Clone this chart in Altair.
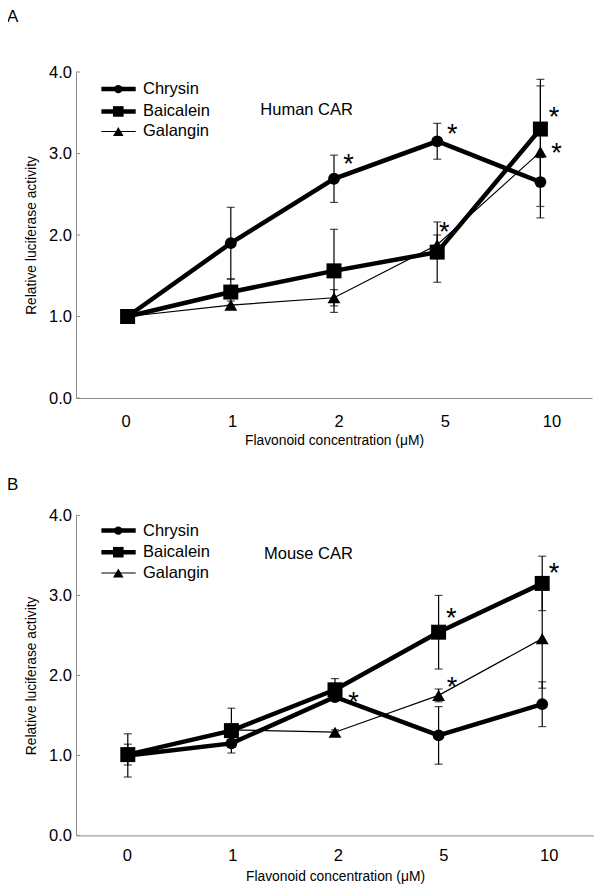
import altair as alt
import pandas as pd

FONT = "Liberation Sans"
GRAY = "#8c8c8c"

conc = ["0", "1", "2", "5", "10"]
series = ["Chrysin", "Baicalein", "Galangin"]
y_ticks = [0, 1, 2, 3, 4]

# Panel A - Human CAR (mean, error)
human_chrysin = [1.00, 1.90, 2.69, 3.15, 2.65]
human_chrysin_err = [0.03, 0.44, 0.29, 0.22, 0.30]
human_baicalein = [1.00, 1.30, 1.56, 1.79, 3.30]
human_baicalein_err = [0.03, 0.16, 0.51, 0.37, 0.61]
human_galangin = [1.00, 1.14, 1.23, 1.88, 3.02]
human_galangin_err = [0.03, 0.05, 0.10, 0.12, 0.81]

# Panel B - Mouse CAR
mouse_chrysin = [1.00, 1.15, 1.73, 1.25, 1.64]
mouse_chrysin_err = [0.27, 0.05, 0.05, 0.36, 0.28]
mouse_baicalein = [1.01, 1.31, 1.82, 2.54, 3.15]
mouse_baicalein_err = [0.13, 0.28, 0.14, 0.46, 0.34]
mouse_galangin = [1.00, 1.32, 1.29, 1.75, 2.46]
mouse_galangin_err = [0.03, 0.03, 0.03, 0.08, 0.62]

# significance marks
human_star_conc = ["2", "5", "5", "10", "10"]
human_star_y = [2.94, 3.31, 2.11, 3.52, 3.08]
human_star_dx = [14.5, 15, 7, 13.5, 16]
mouse_star_conc = ["2", "5", "5", "10"]
mouse_star_y = [1.74, 2.79, 1.93, 3.36]
mouse_star_dx = [18.5, 12.7, 13.5, 11.7]

YTITLE = "Relative luciferase activity"
XTITLE = "Flavonoid concentration (\u03bcM)"

# per-series styling
SHAPES = ["circle", "square", "triangle-up"]
LINE_W = [4.5, 4.5, 1.2]
PT_SIZE = [139, 225, 165]
LEG_SIZE = [70, 112, 110]


def make_frames(means, errs):
    rows = []
    for s, m, e in zip(series, means, errs):
        for c, mv, ev in zip(conc, m, e):
            rows.append(dict(series=s, conc=c, mean=mv, lo=mv - ev, hi=mv + ev))
    df = pd.DataFrame(rows)
    caps = pd.concat([
        df[["series", "conc"]].assign(cap=df["lo"]),
        df[["series", "conc"]].assign(cap=df["hi"]),
    ])
    return df, caps


def panel(means, errs, star_conc, star_y, star_dx, letter, title_offset,
          width, height, legend_rows, note, note_dx, note_y, lab_k, lab_b, lab_pad, title_pad):
    df, caps = make_frames(means, errs)
    stars = pd.DataFrame({"conc": star_conc, "y": star_y, "dx": star_dx})
    notes = pd.DataFrame({"conc": ["1"], "y": [note_y], "t": [note]})
    ticks = pd.DataFrame({"t": y_ticks})
    leg = pd.DataFrame({"series": series, "ly": legend_rows})

    xaxis = alt.Axis(domainColor=GRAY, domainWidth=1, ticks=False, grid=False,
                     labelFont=FONT, labelFontSize=16.5, labelColor="black",
                     labelAngle=0, labelPadding=lab_pad,
                     labelOffset={"expr": f"datum.index*{lab_k}+({lab_b})"},
                     titleFont=FONT, titleFontSize=13.8, titleFontWeight="normal",
                     titleColor="black", titlePadding=title_pad)
    yaxis = alt.Axis(values=y_ticks, format=".1f", domainColor=GRAY, domainWidth=1,
                     ticks=False, grid=False, labelFont=FONT, labelFontSize=16.5,
                     labelColor="black", labelPadding=4.6, titleFont=FONT,
                     titleFontSize=13.8, titleFontWeight="normal", titleColor="black",
                     titlePadding=9.5)
    X = alt.X("conc:O", sort=conc, scale=alt.Scale(type="point", padding=0.5),
              axis=xaxis, title=XTITLE)
    yscale = alt.Scale(domain=[0, 4], nice=False, zero=True)

    def Y(f):
        return alt.Y(f"{f}:Q", scale=yscale, axis=yaxis, title=YTITLE)

    base = alt.Chart(df)
    layers = []
    layers.append(alt.Chart(ticks).mark_rule(color=GRAY, strokeWidth=1).encode(
        y=Y("t"), x=alt.value(0), x2=alt.value(4)))
    layers.append(base.mark_rule(color="black", strokeWidth=1.2).encode(
        x=X, y=Y("lo"), y2="hi"))
    layers.append(alt.Chart(caps).mark_tick(color="black", thickness=1.2, size=8).encode(
        x=X, y=Y("cap")))
    for s, w in zip(series, LINE_W):
        layers.append(base.transform_filter(alt.datum.series == s).mark_line(
            color="black", strokeWidth=w).encode(x=X, y=Y("mean")))
    for s, shp, sz in zip(series, SHAPES, PT_SIZE):
        layers.append(base.transform_filter(alt.datum.series == s).mark_point(
            filled=True, shape=shp, size=sz, color="black", opacity=1).encode(x=X, y=Y("mean")))
    # legend (line sample + marker + name)
    lg = alt.Chart(leg)
    for s, shp, w, sz in zip(series, SHAPES, LINE_W, LEG_SIZE):
        sub = lg.transform_filter(alt.datum.series == s)
        layers.append(sub.mark_rule(color="black", strokeWidth=w).encode(
            y=Y("ly"), x=alt.value(25.4), x2=alt.value(59.7)))
        layers.append(sub.mark_point(filled=True, shape=shp, size=sz, color="black",
                                     opacity=1).encode(y=Y("ly"), x=alt.value(42.3)))
    layers.append(lg.mark_text(font=FONT, fontSize=16.5, color="black", align="left",
                               baseline="middle").encode(
        y=Y("ly"), x=alt.value(67), text="series:N"))
    layers.append(alt.Chart(stars).mark_text(text="*", font=FONT, fontSize=27, color="black",
                                             baseline="alphabetic", align="center", dy=15,
                                             dx={"expr": "datum.dx"}).encode(x=X, y=Y("y")))
    layers.append(alt.Chart(notes).mark_text(font=FONT, fontSize=16.5, color="black",
                                             align="left", baseline="middle", dx=note_dx).encode(
        x=X, y=Y("y"), text="t:N"))

    return alt.layer(*layers).properties(
        width=width, height=height,
        title=alt.TitleParams(letter, anchor="start", frame="bounds", font=FONT, fontSize=17,
                              fontWeight="normal", color="black", baseline="alphabetic",
                              offset=title_offset, dx=-18))


A = panel([human_chrysin, human_baicalein, human_galangin],
          [human_chrysin_err, human_baicalein_err, human_galangin_err],
          human_star_conc, human_star_y, human_star_dx, "A", 24.6, 516, 326,
          [3.79, 3.516, 3.27],
          "Human CAR", 29.5, 3.53, 13, -2, 15, 4.3)
B = panel([mouse_chrysin, mouse_baicalein, mouse_galangin],
          [mouse_chrysin_err, mouse_baicalein_err, mouse_galangin_err],
          mouse_star_conc, mouse_star_y, mouse_star_dx, "B", 0.3, 518, 320,
          [3.81, 3.54, 3.28],
          "Mouse CAR", 32.6, 3.52, 7.5, -1, 12, 5.6)

chart = alt.vconcat(A, B, spacing=27.4).resolve_scale(
    x="independent", y="independent"
).properties(
    padding={"top": 0, "left": -2, "right": 0, "bottom": 0}
).configure_view(stroke=None)

chart.save("out.html", embed_options={"renderer": "svg", "actions": False})
